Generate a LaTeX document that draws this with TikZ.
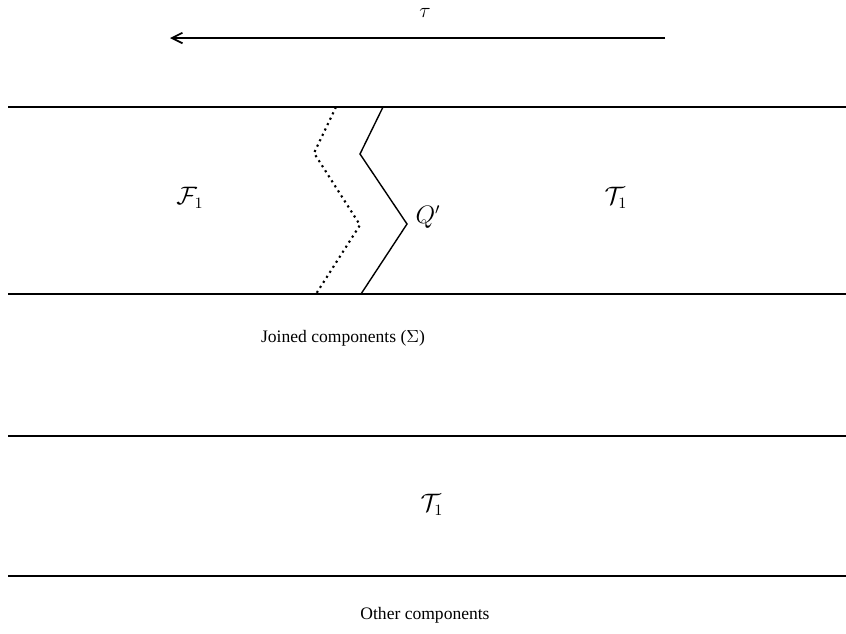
\documentclass[tikz,border=0pt]{standalone}
\usepackage{fontspec}
\setmainfont{Liberation Serif}
\usetikzlibrary{arrows.meta}
\begin{document}
\begin{tikzpicture}[x=0.57pt,y=-0.57pt,
  edge/.style={line width=0.8pt},
  lbl/.style={inner sep=0pt, font=\normalsize},
  mlbl/.style={inner sep=0pt, font=\fontsize{13.5}{15}\selectfont}]
\useasboundingbox (0,0) rectangle (846,633);
% arrow tau
\coordinate (arrS) at (665,38);
\coordinate (arrE) at (170,38);
\draw[edge,-{Straight Barb[length=6pt,width=6pt,line width=1pt]}] (arrS) -- (arrE);
\node[inner sep=0pt, font=\fontsize{12}{14}\selectfont, anchor=base] (tau) at (425,17) {$\tau$};
% horizontal lines
\coordinate (l1a) at (8,107); \coordinate (l1b) at (846,107);
\coordinate (l2a) at (8,294); \coordinate (l2b) at (846,294);
\coordinate (l3a) at (8,436); \coordinate (l3b) at (846,436);
\coordinate (l4a) at (8,576); \coordinate (l4b) at (846,576);
\draw[edge] (l1a) -- (l1b);
\draw[edge] (l2a) -- (l2b);
\draw[edge] (l3a) -- (l3b);
\draw[edge] (l4a) -- (l4b);
% solid zigzag
\coordinate (s1) at (383,107);
\coordinate (s2) at (360,154);
\coordinate (s3) at (407,224);
\coordinate (s4) at (361,294);
\draw[edge] (s1) -- (s2) -- (s3) -- (s4);
% dotted zigzag
\coordinate (d1) at (336,107);
\coordinate (d2) at (314,153);
\coordinate (d3) at (360,225);
\coordinate (d4) at (316,294);
\draw[line width=1.2pt, dash pattern=on 1.2pt off 2.2pt] (d1) -- (d2) -- (d3) -- (d4);
% labels
\node[mlbl] (F1) at (190,198) {$\mathcal{F}_1$};
\node[mlbl] (T1a) at (616,198) {$\mathcal{T}_1$};
\node[mlbl] (Q) at (428,217) {$Q'$};
\node[lbl] (join) at (343,338) {Joined components ($\Sigma$)};
\node[mlbl] (T1b) at (432,505) {$\mathcal{T}_1$};
\node[lbl] (other) at (425,615) {Other components};
\end{tikzpicture}
\end{document}
